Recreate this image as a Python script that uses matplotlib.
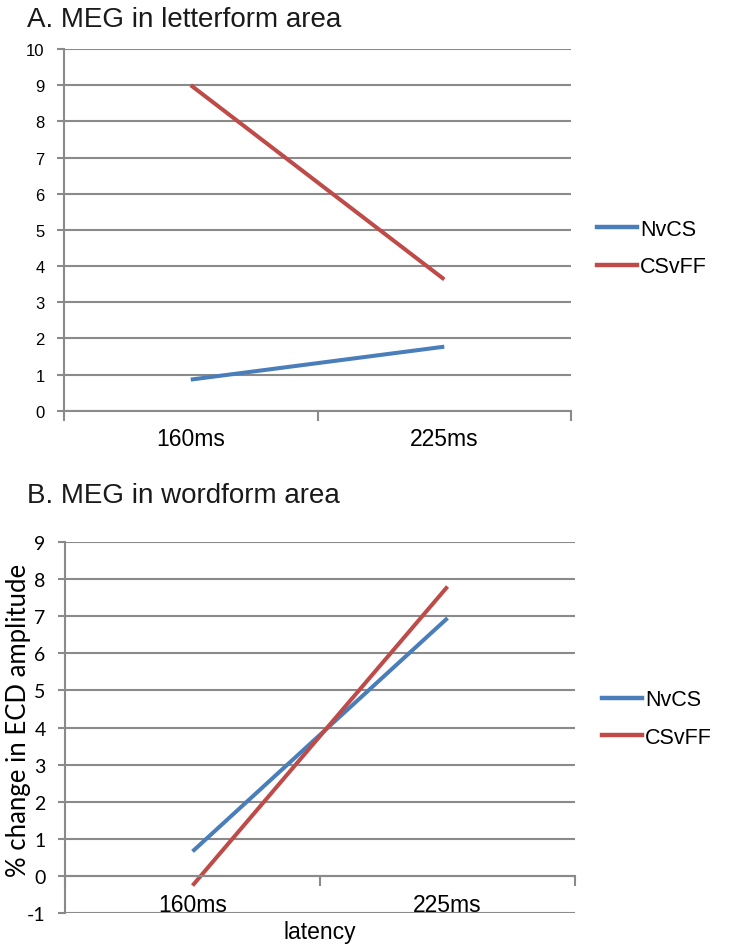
import matplotlib
matplotlib.use("Agg")
import matplotlib.pyplot as plt
from matplotlib.lines import Line2D

plt.rcParams["axes.unicode_minus"] = False

latencies = ["160ms", "225ms"]
series_names = ["NvCS", "CSvFF"]

# panel A: letterform area
letter_nvcs = [0.86, 1.77]
letter_csvff = [9.0, 3.63]

# panel B: wordform area
word_nvcs = [0.66, 6.95]
word_csvff = [-0.26, 7.8]

colors = ["#4A7EBB", "#BE4B48"]
grid_color = "#8A8A8A"
arial = ["Liberation Sans", "DejaVu Sans"]
calibri = ["Lato", "Liberation Sans", "DejaVu Sans"]

fig = plt.figure(figsize=(7.29, 9.53), dpi=100)


def draw_panel(ax, nvcs, csvff, ymin, ymax, tick_font, tick_size):
    x = list(range(len(latencies)))
    ax.plot(x, nvcs, color=colors[0], lw=2.9, solid_capstyle="butt")
    ax.plot(x, csvff, color=colors[1], lw=2.9, solid_capstyle="butt")

    ax.set_xlim(-0.5, len(latencies) - 0.5)
    ax.set_ylim(ymin, ymax)
    ax.set_yticks(range(ymin, ymax + 1))
    ax.yaxis.grid(True, color=grid_color, lw=1.5)
    ax.set_axisbelow(True)

    for side in ["top", "right"]:
        ax.spines[side].set_visible(False)
    ax.spines["left"].set_color(grid_color)
    ax.spines["left"].set_linewidth(1.5)
    ax.spines["bottom"].set_color(grid_color)
    ax.spines["bottom"].set_linewidth(1.5)
    ax.spines["bottom"].set_position(("data", 0))

    ax.set_xticks([-0.5, 0.5, 1.5])
    ax.set_xticklabels([])
    ax.set_xticks(x, minor=True)
    ax.set_xticklabels(latencies, minor=True, family=arial, fontsize=16.5)
    ax.tick_params(axis="x", which="major", length=7, width=1.5,
                   color=grid_color, direction="out")
    ax.tick_params(axis="x", which="minor", length=0, pad=12)
    ax.tick_params(axis="y", length=5, width=1.5, color=grid_color, pad=9)
    for lab in ax.get_yticklabels():
        lab.set_family(tick_font)
        lab.set_fontsize(tick_size)


ax1 = fig.add_axes([0.0878, 0.5680, 0.6955, 0.3795])
draw_panel(ax1, letter_nvcs, letter_csvff, 0, 10, arial, 12)
fig.text(0.037, 0.979, "A. MEG in letterform area", fontsize=20,
         family=arial, color="#1a1a1a", va="center", ha="left")

ax2 = fig.add_axes([0.0892, 0.0409, 0.6996, 0.3893])
draw_panel(ax2, word_nvcs, word_csvff, -1, 9, calibri, 14)
fig.text(0.037, 0.4795, "B. MEG in wordform area", fontsize=20,
         family=arial, color="#1a1a1a", va="center", ha="left")
ax2.set_xlabel("latency", family=arial, fontsize=16.5, labelpad=3)
ax2.set_ylabel("% change in ECD amplitude", family=calibri, fontsize=18.5)
ax2.yaxis.set_label_coords(-0.066, 0.523)

handles = [Line2D([], [], color=c, lw=3.2) for c in colors]
for anchor in [(0.819, 0.7387), (0.826, 0.245)]:
    fig.legend(handles, series_names, loc="center left", bbox_to_anchor=anchor,
               frameon=False, prop={"family": arial, "size": 15.5},
               handlelength=1.85, handletextpad=0.15, labelspacing=0.75,
               borderpad=0, borderaxespad=0)

fig.savefig("out.png", dpi=100)
